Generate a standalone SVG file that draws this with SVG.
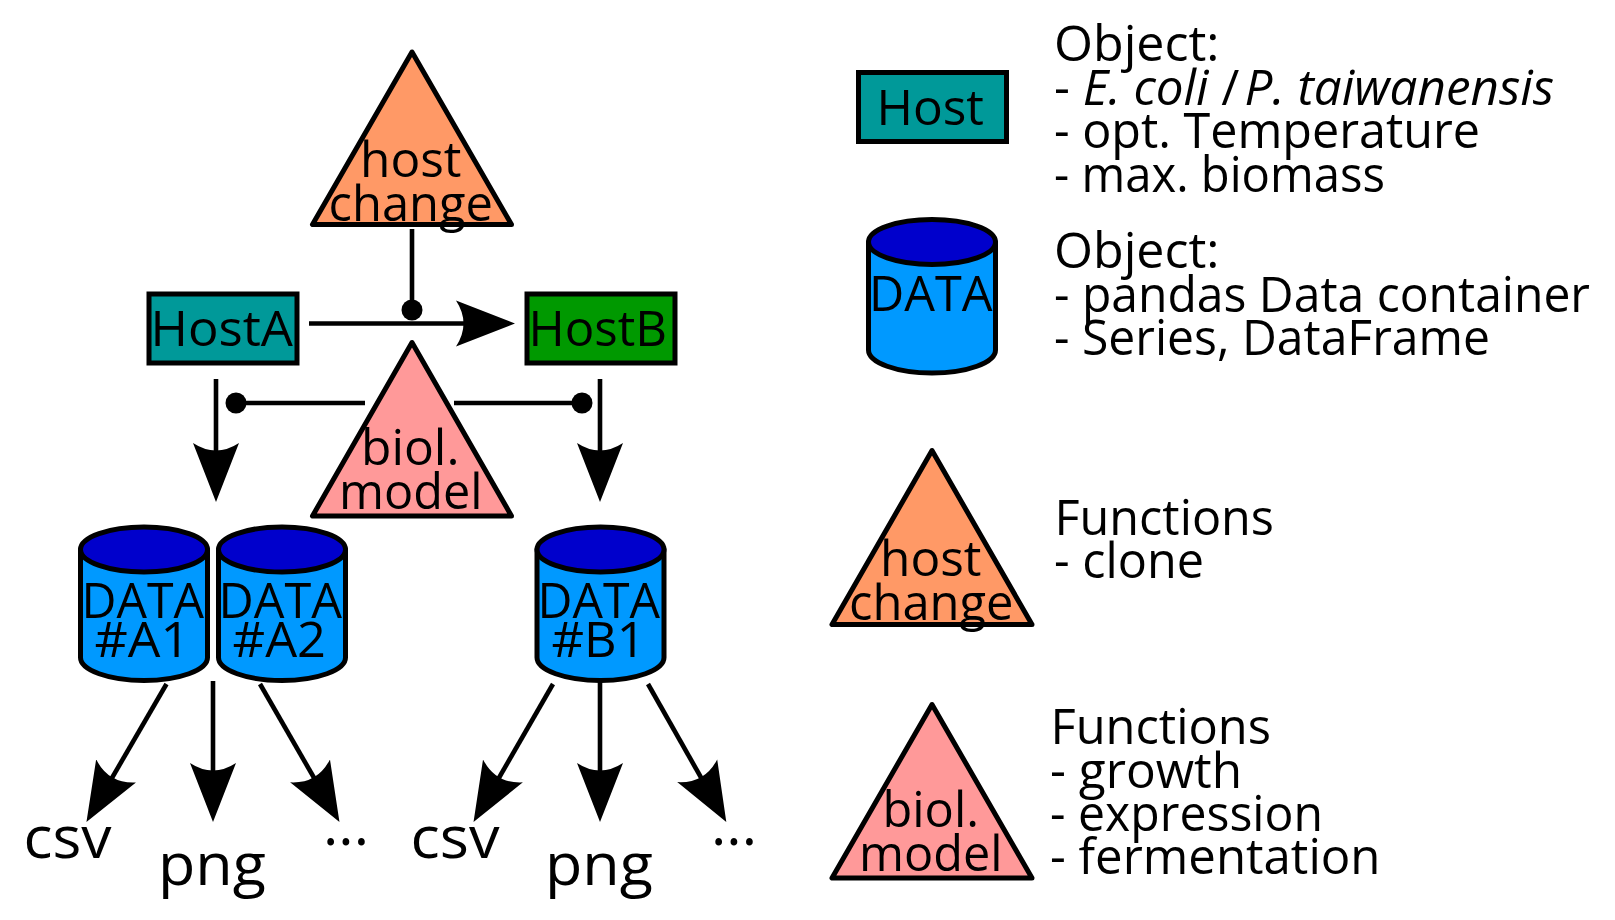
<svg xmlns="http://www.w3.org/2000/svg" xmlns:xlink="http://www.w3.org/1999/xlink" width="1615" height="920" viewBox="0 0 1615 920">
<style>
text{font-family:"Open Sans","Noto Sans","DejaVu Sans",sans-serif;font-size:50px;fill:#000;}
.lbl{font-size:58px;}
.s{stroke:#000;stroke-width:5;stroke-linejoin:round;}
.rect{stroke:#000;stroke-width:5;}
.hc{fill:#ff9966;}
.bm{fill:#ff9999;}
.ha{fill:#009999;}
.hb{fill:#009900;}
.line{fill:none;stroke:#000;stroke-width:4.6;}
.arr{marker-end:url(#head);}
.dot{marker-end:url(#dot);}
</style>
<defs>
<marker id="head" markerUnits="userSpaceOnUse" viewBox="0 -24 60 48" markerWidth="60" markerHeight="48" refX="29" refY="0" orient="auto"><path d="M59,0L0,-23Q15,0 0,23Z" fill="#000"/></marker>
<marker id="dot" markerUnits="userSpaceOnUse" viewBox="-11 -11 22 22" markerWidth="22" markerHeight="22" refX="0" refY="0" orient="auto"><circle r="10.5" fill="#000"/></marker>
<g id="cyl"><path class="s" fill="#0099ff" d="M-63.5,0V108A63.5,23 0 0 0 63.5,108V0Z"/><ellipse class="s" fill="#0000cc" rx="63.5" ry="22.5"/></g>
</defs>
<g id="connectors">
<line class="line" x1="412" y1="229" x2="412" y2="310" style="marker-end:url(#dot)"/>
<line class="line arr" x1="309" y1="323.5" x2="485" y2="323.5"/>
<line class="line dot" x1="365" y1="403" x2="236" y2="403"/>
<line class="line dot" x1="454" y1="403" x2="582" y2="403"/>
<line class="line arr" x1="216" y1="379" x2="216" y2="472"/>
<line class="line arr" x1="600" y1="379" x2="600" y2="472"/>
<line class="line arr" x1="166.5" y1="684" x2="101.5" y2="796"/>
<line class="line arr" x1="213" y1="681" x2="213" y2="792"/>
<line class="line arr" x1="260" y1="684" x2="324.5" y2="796"/>
<line class="line arr" x1="553" y1="684" x2="488.5" y2="796"/>
<line class="line arr" x1="600" y1="681" x2="600" y2="792"/>
<line class="line arr" x1="648" y1="684" x2="711.5" y2="796"/>
</g>
<g id="hostchange"><path class="s hc" d="M412,52L312.5,224.5H511.5Z"/><text x="360" y="176.5" textLength="101.5" lengthAdjust="spacingAndGlyphs">host</text><text x="328.5" y="220.5" textLength="164.5" lengthAdjust="spacingAndGlyphs">change</text></g>
<g id="hostA"><rect class="rect ha" x="149" y="294" width="148" height="69"/><text x="150.5" y="346" textLength="142.5" lengthAdjust="spacingAndGlyphs">HostA</text></g>
<g id="hostB"><rect class="rect hb" x="527" y="294" width="148" height="69"/><text x="528.5" y="346" textLength="138.5" lengthAdjust="spacingAndGlyphs">HostB</text></g>
<g id="biolmodel"><path class="s bm" d="M412,342.5L312.5,516H511.5Z"/><text x="361" y="465" textLength="98.5" lengthAdjust="spacingAndGlyphs">biol.</text><text x="339" y="509" textLength="143.5" lengthAdjust="spacingAndGlyphs">model</text></g>
<g id="dataA1"><use xlink:href="#cyl" href="#cyl" transform="translate(144,549.5)"/><text x="81.5" y="617.5" textLength="122.5" lengthAdjust="spacingAndGlyphs">DATA</text><text x="94.5" y="656.5" textLength="95.5" lengthAdjust="spacingAndGlyphs">#A1</text></g>
<g id="dataA2"><use xlink:href="#cyl" href="#cyl" transform="translate(282,549.5)"/><text x="218.5" y="617.5" textLength="123.5" lengthAdjust="spacingAndGlyphs">DATA</text><text x="232.5" y="656.5" textLength="93.5" lengthAdjust="spacingAndGlyphs">#A2</text></g>
<g id="dataB1"><use xlink:href="#cyl" href="#cyl" transform="translate(600.5,549.5)"/><text x="537.5" y="617.5" textLength="122.5" lengthAdjust="spacingAndGlyphs">DATA</text><text x="551.5" y="656.5" textLength="94" lengthAdjust="spacingAndGlyphs">#B1</text></g>
<g id="outA"><text class="lbl" x="23.5" y="858" textLength="88" lengthAdjust="spacingAndGlyphs">csv</text><text class="lbl" x="158" y="885" textLength="108" lengthAdjust="spacingAndGlyphs">png</text><text class="lbl" x="323" y="845" textLength="46" lengthAdjust="spacingAndGlyphs">...</text></g>
<g id="outB"><text class="lbl" x="410.5" y="858" textLength="89" lengthAdjust="spacingAndGlyphs">csv</text><text class="lbl" x="545" y="885" textLength="108" lengthAdjust="spacingAndGlyphs">png</text><text class="lbl" x="711" y="845" textLength="46" lengthAdjust="spacingAndGlyphs">...</text></g>
<g id="legendHost"><rect class="rect ha" x="858.5" y="72.5" width="148" height="69"/><text x="876.5" y="124.5" textLength="107.5" lengthAdjust="spacingAndGlyphs">Host</text></g>
<g id="legendHostText"><text x="1054" y="61" textLength="165.5" lengthAdjust="spacingAndGlyphs">Object:</text><text x="1054" y="104.5" textLength="500" lengthAdjust="spacingAndGlyphs">- <tspan font-style="italic">E. coli</tspan> / <tspan font-style="italic" dx="-8">P. taiwanensis</tspan></text><text x="1054" y="148" textLength="426" lengthAdjust="spacingAndGlyphs">- opt. Temperature</text><text x="1054" y="191.5" textLength="331" lengthAdjust="spacingAndGlyphs">- max. biomass</text></g>
<g id="legendData"><use xlink:href="#cyl" href="#cyl" transform="translate(932,242)"/><text x="869" y="310.5" textLength="123.5" lengthAdjust="spacingAndGlyphs">DATA</text></g>
<g id="legendDataText"><text x="1054" y="268" textLength="165.5" lengthAdjust="spacingAndGlyphs">Object:</text><text x="1054" y="311.5" textLength="536" lengthAdjust="spacingAndGlyphs">- pandas Data container</text><text x="1054" y="355" textLength="436" lengthAdjust="spacingAndGlyphs">- Series, DataFrame</text></g>
<g id="legendHostChange"><path class="s hc" d="M932,450.5L832,624.5H1032Z"/><text x="880" y="575.5" textLength="101.5" lengthAdjust="spacingAndGlyphs">host</text><text x="849" y="619.5" textLength="164.5" lengthAdjust="spacingAndGlyphs">change</text></g>
<g id="legendHostChangeText"><text x="1054.5" y="535" textLength="219.5" lengthAdjust="spacingAndGlyphs">Functions</text><text x="1054" y="578" textLength="150" lengthAdjust="spacingAndGlyphs">- clone</text></g>
<g id="legendBiol"><path class="s bm" d="M932,704.5L832,878H1032Z"/><text x="882.5" y="827" textLength="96.5" lengthAdjust="spacingAndGlyphs">biol.</text><text x="859" y="871" textLength="143.5" lengthAdjust="spacingAndGlyphs">model</text></g>
<g id="legendBiolText"><text x="1050.5" y="744" textLength="220.5" lengthAdjust="spacingAndGlyphs">Functions</text><text x="1050" y="787.5" textLength="192" lengthAdjust="spacingAndGlyphs">- growth</text><text x="1050" y="831" textLength="273" lengthAdjust="spacingAndGlyphs">- expression</text><text x="1050" y="874" textLength="330.5" lengthAdjust="spacingAndGlyphs">- fermentation</text></g>
</svg>
